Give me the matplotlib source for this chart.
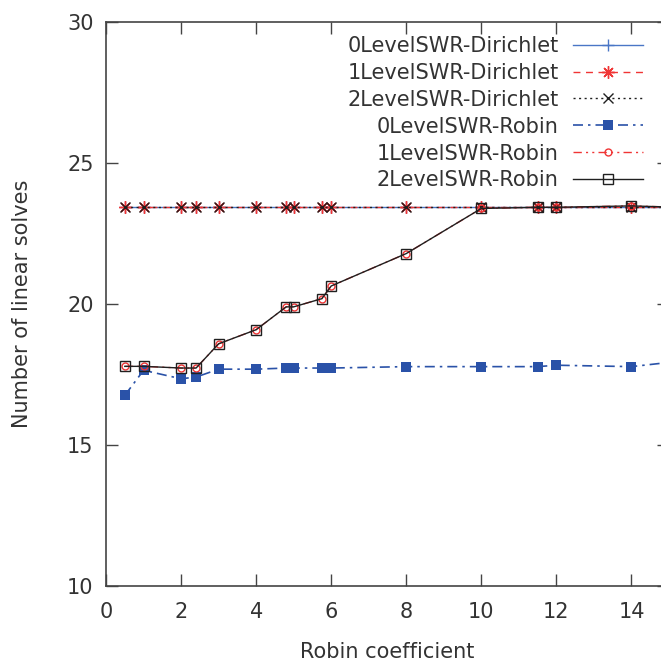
import matplotlib

matplotlib.use("Agg")
import matplotlib.pyplot as plt

# Robin coefficient values (last point sits at the right edge of the frame)
x_dir = [0.5, 1, 2, 2.4, 3, 4, 4.8, 5, 5.75, 6, 8, 10, 11.5, 12, 14, 15]
x_rob = [0.5, 1, 2, 2.4, 3, 4, 4.8, 5, 5.75, 6, 8, 10, 11.5, 12, 14, 15]

dir_0level = [23.45] * 16
dir_1level = [23.45] * 16
dir_2level = [23.45] * 16

rob_0level = [16.77, 17.66, 17.36, 17.42, 17.70, 17.70, 17.74, 17.74,
              17.74, 17.74, 17.79, 17.79, 17.79, 17.84, 17.79, 17.94]
rob_1level = [17.80, 17.80, 17.74, 17.74, 18.60, 19.10, 19.91, 19.91,
              20.20, 20.65, 21.80, 23.40, 23.44, 23.44, 23.49, 23.45]
rob_2level = [17.80, 17.80, 17.74, 17.74, 18.60, 19.10, 19.91, 19.91,
              20.20, 20.65, 21.80, 23.40, 23.44, 23.44, 23.49, 23.45]

labels = [
    "0LevelSWR-Dirichlet",
    "1LevelSWR-Dirichlet",
    "2LevelSWR-Dirichlet",
    "0LevelSWR-Robin",
    "1LevelSWR-Robin",
    "2LevelSWR-Robin",
]

BLUE_LIGHT = "#4a76c6"
BLUE = "#2a52a8"
RED = "#f03535"
BLACK = "#202020"
GREY = "#444444"
TEXT = "#333333"

plt.rcParams["font.family"] = ["DejaVu Sans"]

fig = plt.figure(figsize=(6.61, 6.64), dpi=100)
ax = fig.add_axes([0.1604, 0.117, 0.8517, 0.8494])

ax.plot(x_dir, dir_0level, color=BLUE_LIGHT, lw=1.0, ls="-",
        marker="+", ms=9, mew=1.0, label=labels[0])
ax.plot(x_dir, dir_1level, color=RED, lw=1.0, ls=(0, (5, 4)),
        marker=(8, 2, 0), ms=9, mew=1.0, label=labels[1])
ax.plot(x_dir, dir_2level, color=BLACK, lw=1.0, ls=(0, (1.5, 2.5)),
        marker="x", ms=7, mew=1.0, label=labels[2])
ax.plot(x_rob, rob_0level, color=BLUE, lw=1.2, ls=(0, (6, 3, 1.5, 3)),
        marker="s", ms=7, mew=0, label=labels[3])
ax.plot(x_rob, rob_1level, color=RED, lw=1.0, ls=(0, (6, 3, 1.5, 3, 1.5, 3)),
        marker="o", ms=5, mfc="none", mew=1.0, label=labels[4])
ax.plot(x_rob, rob_2level, color=BLACK, lw=1.0, ls="-",
        marker="s", ms=6.5, mfc="none", mew=1.0, label=labels[5])

ax.set_xlim(0, 15)
ax.set_ylim(10, 30)
ax.set_xticks(range(0, 15, 2))
ax.set_yticks(range(10, 31, 5))

for side in ax.spines:
    ax.spines[side].set_color(GREY)
    ax.spines[side].set_linewidth(1.2)

ax.tick_params(direction="in", length=8.5, width=1.0, color=GREY,
               top=True, right=True, labelsize=15, labelcolor=TEXT)
ax.tick_params(axis="x", pad=11)
ax.tick_params(axis="y", pad=9)

ax.set_xlabel("Robin coefficient", fontsize=15, color=TEXT, labelpad=15)
ax.set_ylabel("Number of linear solves", fontsize=15, color=TEXT, labelpad=25)

leg = ax.legend(loc="upper right", bbox_to_anchor=(643 / 661, 1 - 36 / 664),
                bbox_transform=fig.transFigure, frameon=False, markerfirst=False,
                numpoints=1, handlelength=3.35, handletextpad=0.7,
                labelspacing=0.33, borderpad=0, borderaxespad=0, fontsize=15)
for t in leg.get_texts():
    t.set_color(TEXT)

fig.savefig("out.png", dpi=100)
